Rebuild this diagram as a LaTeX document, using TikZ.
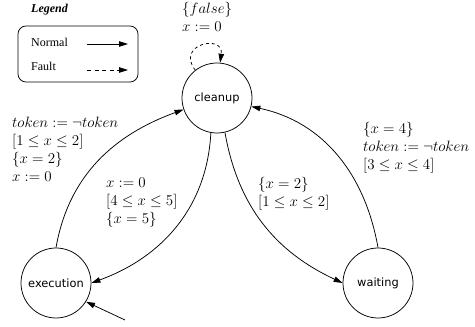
\documentclass[tikz,border=0pt]{standalone}
\usepackage{fix-cm}
\usepackage{fontspec}
\newfontfamily\statefont{DejaVu Sans}
\newfontfamily\legendfont{Liberation Serif}
\usetikzlibrary{arrows.meta}
\begin{document}
\begin{tikzpicture}[x=1pt,y=1pt,
  state/.style={circle,draw,line width=0.75pt,minimum size=70pt,inner sep=0pt,
    font=\statefont\fontsize{11.4}{13}\selectfont},
  lbl/.style={anchor=west,align=left,inner sep=0pt,font=\fontsize{15}{18}\selectfont},
  legtext/.style={anchor=west,inner sep=0pt,font=\legendfont\fontsize{12}{14}\selectfont},
  edge/.style={line width=0.75pt,-{Triangle[length=9pt,width=5.5pt]}},
  faultdash/.style={dash pattern=on 4pt off 3.5pt}
  ]
\useasboundingbox (0,0) rectangle (475,327);
% legend
\node[legtext,font=\legendfont\fontsize{12}{14}\selectfont\bfseries\itshape] (legendtitle) at (31,317) {Legend};
\node[draw,line width=0.75pt,rounded corners=8pt,minimum width=120pt,minimum height=56pt,inner sep=0pt] (legendbox) at (78,273) {};
\node[legtext] (normaltext) at (31,285) {Normal};
\node[legtext] (faulttext) at (31,261) {Fault};
\coordinate (na) at (87,283);
\coordinate (nb) at (128,283);
\coordinate (fa) at (87,257);
\coordinate (fb) at (128,257);
\draw[edge] (na) -- (nb);
\draw[edge,faultdash] (fa) -- (fb);
% states
\node[state] (cleanup) at (217,229) {cleanup};
\node[state] (execution) at (56,44) {execution};
\node[state] (waiting) at (378,44) {waiting};
% edges
\draw[edge,dashed] (cleanup.128) .. controls +(-20,26) and +(4,29) .. (cleanup.85);
\draw[edge] (execution.90) to[out=80,in=200] (cleanup.199);
\draw[edge] (cleanup.-100) to[out=-93,in=20] (execution.0);
\draw[edge] (cleanup.-77) to[out=-80,in=155] (waiting.180);
\draw[edge] (waiting.90) to[out=100,in=-12] (cleanup.-14);
\coordinate (init) at (125,7);
\draw[edge] (init) -- (execution.-32);
% labels
\node[lbl] (looplbl) at (182,310) {$\{false\}$\\$x:=0$};
\node[lbl] (retlbl) at (12,178) {$token:=\neg token$\\$[1\leq x\leq 2]$\\$\{x=2\}$\\$x:=0$};
\node[lbl] (execlbl) at (106,124) {$x:=0$\\$[4\leq x\leq 5]$\\$\{x=5\}$};
\node[lbl] (waitlbl) at (258,133) {$\{x=2\}$\\$[1\leq x\leq 2]$};
\node[lbl] (wretlbl) at (363,179) {$\{x=4\}$\\$token:=\neg token$\\$[3\leq x\leq 4]$};
\end{tikzpicture}
\end{document}
